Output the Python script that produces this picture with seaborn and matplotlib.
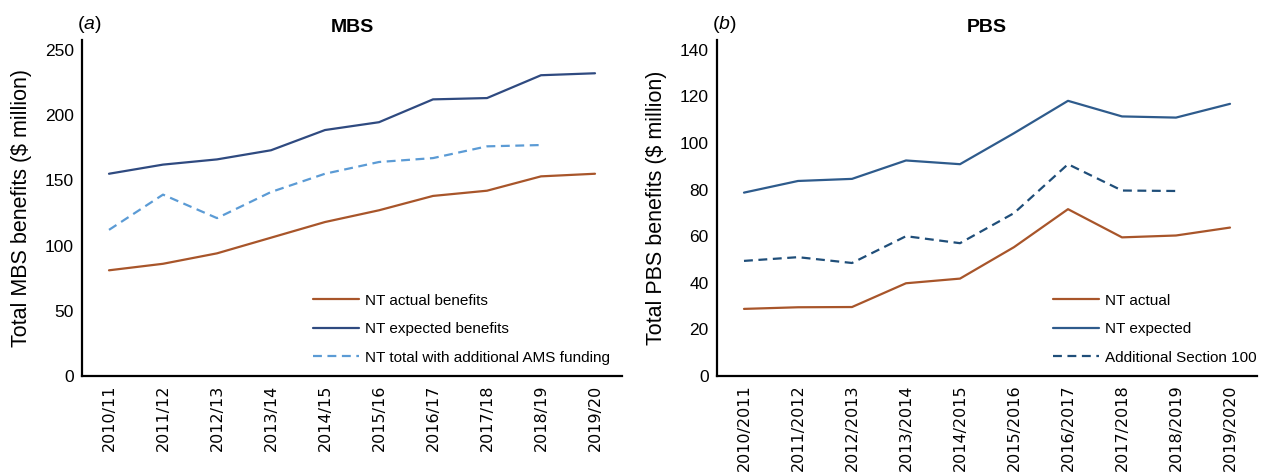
import matplotlib
matplotlib.use("Agg")
import matplotlib.pyplot as plt
import seaborn as sns
import pandas as pd

# ----------------------------
# Data
# ----------------------------
mbs_years = ["2010/11", "2011/12", "2012/13", "2013/14", "2014/15",
             "2015/16", "2016/17", "2017/18", "2018/19", "2019/20"]
mbs_actual = [81, 86, 94, 106, 118, 127, 138, 142, 153, 155]
mbs_expected = [155, 162, 166, 173, 188.5, 194.5, 212, 213, 230.5, 232]
mbs_ams = [112, 139, 121, 141, 155, 164, 167, 176, 177, None]

pbs_years = ["2010/2011", "2011/2012", "2012/2013", "2013/2014", "2014/2015",
             "2015/2016", "2016/2017", "2017/2018", "2018/2019", "2019/2020"]
pbs_actual = [28.8, 29.5, 29.6, 39.8, 41.8, 55.3, 71.6, 59.5, 60.3, 63.7]
pbs_expected = [78.7, 83.7, 84.6, 92.5, 90.9, 104.2, 118.1, 111.4, 110.9, 116.8]
pbs_s100 = [49.4, 51, 48.5, 60, 57, 69.9, 90.9, 79.6, 79.4, None]

mbs_labels = ["NT actual benefits", "NT expected benefits",
              "NT total with additional AMS funding"]
pbs_labels = ["NT actual", "NT expected", "Additional Section 100"]

# ----------------------------
# Style
# ----------------------------
sns.set_style("ticks")
plt.rcParams["font.family"] = ["Liberation Sans", "DejaVu Sans"]
plt.rcParams["text.color"] = "black"
plt.rcParams["axes.labelcolor"] = "black"
plt.rcParams["xtick.color"] = "black"
plt.rcParams["ytick.color"] = "black"
plt.rcParams["mathtext.fontset"] = "custom"
plt.rcParams["mathtext.rm"] = "Liberation Sans"
plt.rcParams["mathtext.it"] = "Liberation Sans:italic"

fig = plt.figure(figsize=(12.62, 4.73), dpi=100)
ax1 = fig.add_axes([82 / 1262, 97 / 473, 540 / 1262, 336 / 473])
ax2 = fig.add_axes([717 / 1262, 97 / 473, 540 / 1262, 336 / 473])


def long_df(years, series, labels):
    rows = []
    for lab, vals in zip(labels, series):
        for i, (yr, v) in enumerate(zip(years, vals)):
            if v is not None:
                rows.append({"x": i, "year": yr, "value": v, "series": lab})
    return pd.DataFrame(rows)


def draw(ax, years, series, labels, colors, dashes, ylim, yticks,
         ylabel, title, tag, leg_x):
    df = long_df(years, series, labels)
    sns.lineplot(data=df, x="x", y="value", hue="series", style="series",
                 hue_order=labels, style_order=labels,
                 palette=dict(zip(labels, colors)),
                 dashes=dict(zip(labels, dashes)),
                 linewidth=1.6, ax=ax)
    ax.set_xlim(-0.5, len(years) - 0.5)
    ax.set_ylim(*ylim)
    ax.set_yticks(yticks)
    ax.set_xticks(range(len(years)))
    ax.set_xticklabels(years, rotation=90, fontsize=11.5,
                       family="DejaVu Sans")
    ax.tick_params(axis="both", length=0, pad=6)
    ax.tick_params(axis="y", labelsize=12.5)
    ax.set_xlabel("")
    ax.set_ylabel(ylabel, fontsize=15.5)
    ax.yaxis.set_label_coords(-0.092, 0.5)
    ax.set_title(title, fontsize=14, fontweight="bold", pad=6)
    ax.text(-0.009, 1.033, "($\\mathit{" + tag + "}$)", transform=ax.transAxes,
            fontsize=14, ha="left", va="baseline")
    for side in ["top", "right"]:
        ax.spines[side].set_visible(False)
    for side in ["left", "bottom"]:
        ax.spines[side].set_linewidth(1.6)
        ax.spines[side].set_color("black")
    ax.legend(loc="upper left", bbox_to_anchor=(leg_x, 0.245),
              frameon=False, fontsize=11, handlelength=3.0,
              handletextpad=0.4, labelspacing=0.95, borderpad=0,
              borderaxespad=0)


draw(ax1, mbs_years, [mbs_actual, mbs_expected, mbs_ams], mbs_labels,
     ["#A8552A", "#2F4A80", "#5B9BD5"], ["", "", (4, 2.5)],
     (0, 257.5), [0, 50, 100, 150, 200, 250],
     "Total MBS benefits ($ million)", "MBS", "a", 0.428)

draw(ax2, pbs_years, [pbs_actual, pbs_expected, pbs_s100], pbs_labels,
     ["#A8552A", "#2E5B8C", "#1F4E79"], ["", "", (4, 2.5)],
     (0, 144.2), [0, 20, 40, 60, 80, 100, 120, 140],
     "Total PBS benefits ($ million)", "PBS", "b", 0.622)

fig.savefig("out.png", dpi=100)
